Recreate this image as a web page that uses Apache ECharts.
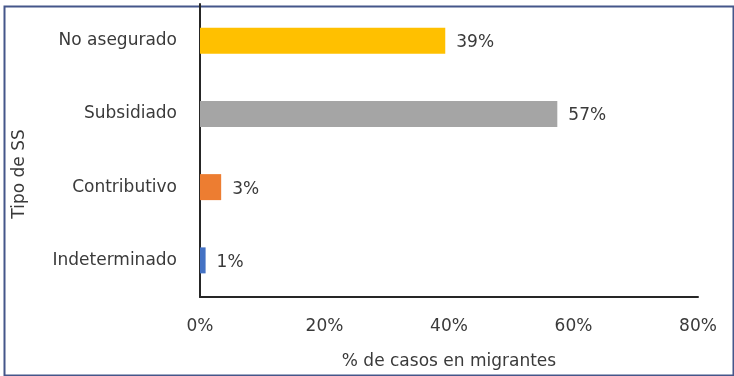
<!DOCTYPE html>
<html><head><meta charset="utf-8">
<script src="https://cdn.jsdelivr.net/npm/echarts@6/dist/echarts.min.js"></script>
<style>html,body{margin:0;padding:0;background:#fff}#c{width:734px;height:376px}</style>
</head><body><div id="c"></div>
<script>
const categories = ['Indeterminado', 'Contributivo', 'Subsidiado', 'No asegurado'];
const values = [0.9, 3.4, 57.4, 39.4];
const barColors = ['#4472C4', '#ED7D31', '#A5A5A5', '#FFC000'];
const xTicks = [0, 20, 40, 60, 80];
const xTitle = '% de casos en migrantes';
const yTitle = 'Tipo de SS';

const FONT = 'DejaVu Sans';
const FS = 17;
const chart = echarts.init(document.getElementById('c'), null, {renderer: 'canvas'});
chart.setOption({
  animation: false,
  backgroundColor: '#fff',
  grid: {left: 200, right: 36, top: 4, bottom: 79, containLabel: false},
  xAxis: {
    type: 'value', min: xTicks[0], max: xTicks[xTicks.length - 1], interval: 20,
    name: xTitle, nameLocation: 'middle', nameGap: 56,
    nameTextStyle: {fontFamily: FONT, fontSize: FS, color: '#3a3a3a'},
    axisLine: {show: true, lineStyle: {color: '#262626', width: 2}},
    axisTick: {show: false},
    splitLine: {show: false},
    axisLabel: {formatter: v => v + '%', margin: 21, fontFamily: FONT, fontSize: FS, color: '#3a3a3a'}
  },
  yAxis: {
    type: 'category', data: categories,
    axisLine: {show: true, lineStyle: {color: '#262626', width: 2}},
    axisTick: {show: false},
    axisLabel: {margin: 23, padding: [5, 0, 0, 0], fontFamily: FONT, fontSize: FS, color: '#3a3a3a'}
  },
  graphic: [
    {type: 'rect', left: 2, top: 4, shape: {width: 729, height: 369}, style: {fill: 'none', stroke: '#45568a', lineWidth: 2}, silent: true},
    {type: 'text', x: 20, y: 174, rotation: Math.PI / 2, style: {text: yTitle, fontFamily: FONT, fontSize: FS, fill: '#3a3a3a', align: 'center', verticalAlign: 'middle'}}
  ],
  series: [{
    type: 'bar', barWidth: 26,
    data: values.map((v, i) => ({value: v, itemStyle: {color: barColors[i]}})),
    label: {show: true, position: 'right', distance: 11, offset: [0, 2], formatter: p => Math.round(p.value) + '%', fontFamily: FONT, fontSize: FS, color: '#3a3a3a'}
  }]
});
</script></body></html>
